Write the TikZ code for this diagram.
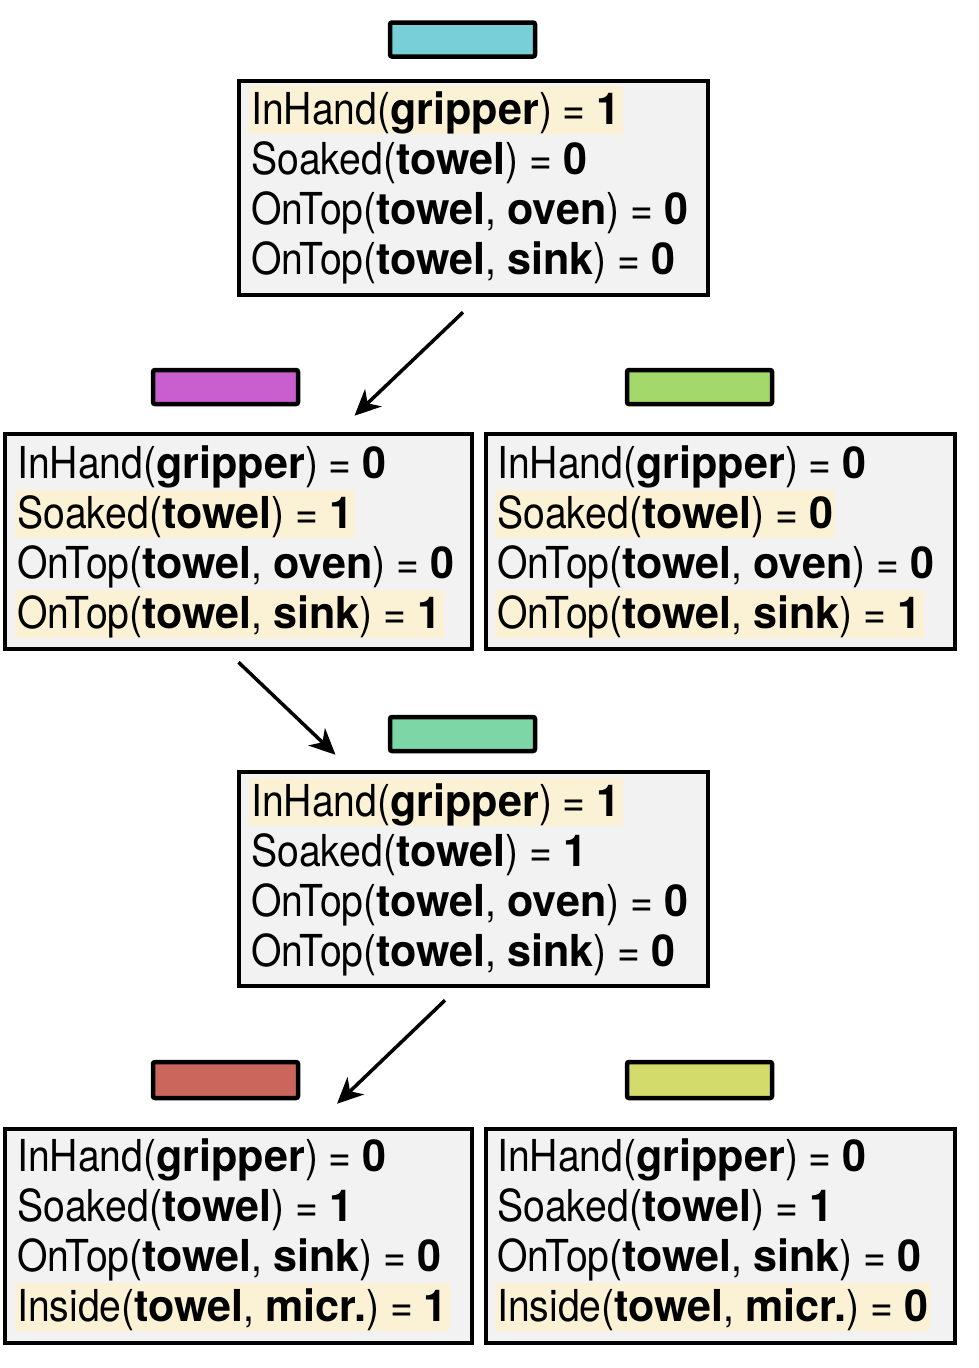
\documentclass[tikz,border=0pt]{standalone}
\usepackage{fontspec}
\setmainfont{TeX Gyre Heros}[UprightFeatures={FakeStretch=0.89}, BoldFeatures={FakeStretch=0.98}]
\usetikzlibrary{arrows.meta,calc}
\frenchspacing
\definecolor{cyanc}{HTML}{79CFD8}
\definecolor{purplec}{HTML}{C95ECE}
\definecolor{greenc}{HTML}{A2D96A}
\definecolor{mintc}{HTML}{7DD6A5}
\definecolor{redc}{HTML}{CB665C}
\definecolor{ygc}{HTML}{D3DC6A}
\definecolor{hlc}{HTML}{FBF1D4}
\definecolor{boxc}{HTML}{F2F2F2}
\tikzset{
  statebox/.style={draw=black, line width=4.5pt, fill=boxc, inner sep=0pt},
  tag/.style={draw=black, line width=4.5pt, rounded corners=2pt, minimum width=145pt, minimum height=34pt, inner sep=0pt},
  ln/.style={font=\fontsize{44}{50}\selectfont, inner xsep=2pt, inner ysep=1pt, text height=37pt, text depth=9pt, anchor=west},
  hl/.style={fill=hlc},
  arr/.style={line width=3.5pt, -{Stealth[length=26pt,width=24pt,inset=8pt]}}
}
\begin{document}
\frenchspacing
\begin{tikzpicture}[x=1pt,y=-1pt]
\useasboundingbox (0,0) rectangle (978,1368);
% tags
\node[tag, fill=cyanc] (t0) at (462.5,39.5) {};
\node[tag, fill=purplec] (t1) at (225.5,387) {};
\node[tag, fill=greenc] (t2) at (699.5,387) {};
\node[tag, fill=mintc] (t3) at (462.5,734) {};
\node[tag, fill=redc, minimum height=36pt] (t4) at (225.5,1080) {};
\node[tag, fill=ygc, minimum height=36pt] (t5) at (699.5,1080) {};
% boxes
\node[statebox, minimum width=469pt, minimum height=214pt] (s0) at (473.5,188) {};
\node[statebox, minimum width=467pt, minimum height=215pt] (s1) at (238.5,541.5) {};
\node[statebox, minimum width=469pt, minimum height=215pt] (s2) at (720.5,541.5) {};
\node[statebox, minimum width=469pt, minimum height=214pt] (s3) at (473.5,879) {};
\node[statebox, minimum width=467pt, minimum height=214pt] (s4) at (238.5,1236) {};
\node[statebox, minimum width=469pt, minimum height=214pt] (s5) at (720.5,1236) {};
% top box
\node[ln, hl] (s0a) at (249,110) {InHand(\textbf{gripper}) = \textbf{1}};
\node[ln] (s0b) at (249,160) {Soaked(\textbf{towel}) = \textbf{0}};
\node[ln] (s0c) at (249,210) {OnTop(\textbf{towel}, \textbf{oven}) = \textbf{0}};
\node[ln] (s0d) at (249,260) {OnTop(\textbf{towel}, \textbf{sink}) = \textbf{0}};
% left box 2
\node[ln] (s1a) at (15,464) {InHand(\textbf{gripper}) = \textbf{0}};
\node[ln, hl] (s1b) at (15,514) {Soaked(\textbf{towel}) = \textbf{1}};
\node[ln] (s1c) at (15,564) {OnTop(\textbf{towel}, \textbf{oven}) = \textbf{0}};
\node[ln, hl] (s1d) at (15,614) {OnTop(\textbf{towel}, \textbf{sink}) = \textbf{1}};
% right box 2
\node[ln] (s2a) at (495,464) {InHand(\textbf{gripper}) = \textbf{0}};
\node[ln, hl] (s2b) at (495,514) {Soaked(\textbf{towel}) = \textbf{0}};
\node[ln] (s2c) at (495,564) {OnTop(\textbf{towel}, \textbf{oven}) = \textbf{0}};
\node[ln, hl] (s2d) at (495,614) {OnTop(\textbf{towel}, \textbf{sink}) = \textbf{1}};
% middle box
\node[ln, hl] (s3a) at (249,802) {InHand(\textbf{gripper}) = \textbf{1}};
\node[ln] (s3b) at (249,852) {Soaked(\textbf{towel}) = \textbf{1}};
\node[ln] (s3c) at (249,902) {OnTop(\textbf{towel}, \textbf{oven}) = \textbf{0}};
\node[ln] (s3d) at (249,952) {OnTop(\textbf{towel}, \textbf{sink}) = \textbf{0}};
% bottom left
\node[ln] (s4a) at (15,1157) {InHand(\textbf{gripper}) = \textbf{0}};
\node[ln] (s4b) at (15,1207) {Soaked(\textbf{towel}) = \textbf{1}};
\node[ln] (s4c) at (15,1257) {OnTop(\textbf{towel}, \textbf{sink}) = \textbf{0}};
\node[ln, hl] (s4d) at (15,1307) {Inside(\textbf{towel}, \textbf{micr.}) = \textbf{1}};
% bottom right
\node[ln] (s5a) at (495,1157) {InHand(\textbf{gripper}) = \textbf{0}};
\node[ln] (s5b) at (495,1207) {Soaked(\textbf{towel}) = \textbf{1}};
\node[ln] (s5c) at (495,1257) {OnTop(\textbf{towel}, \textbf{sink}) = \textbf{0}};
\node[ln, hl] (s5d) at (495,1307) {Inside(\textbf{towel}, \textbf{micr.}) = \textbf{0}};
% arrows
\draw[arr] ($(s0.south)+(-10.5,15)$) -- ($(s1.north)+(116,-16)$);
\draw[arr] ($(s1.south)+(0,11)$) -- ($(s3.north)+(-138,-15)$);
\draw[arr] ($(s3.south)+(-28.5,12)$) -- ($(s4.north)+(98.5,-23)$);
\end{tikzpicture}
\end{document}
